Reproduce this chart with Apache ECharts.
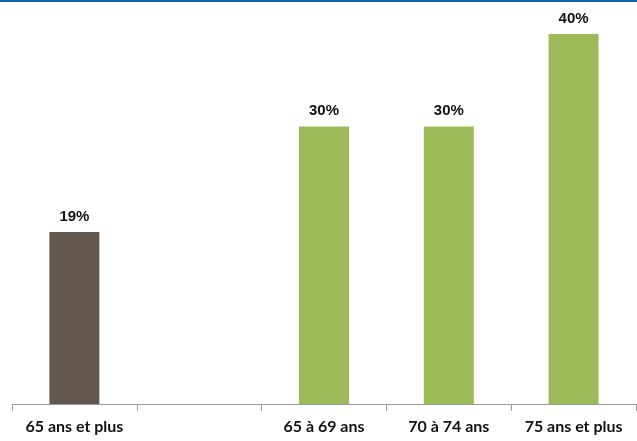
<!DOCTYPE html>
<html><head><meta charset="utf-8">
<script src="https://cdn.jsdelivr.net/npm/echarts@6/dist/echarts.min.js"></script>
<style>html,body{margin:0;padding:0;background:#fff}#c{width:637px;height:441px}</style>
</head><body><div id="c"></div>
<script>
var categories = ['65 ans et plus', '', '65 à 69 ans', '70 à 74 ans', '75 ans et plus'];
var values = [18.6, null, 30, 30, 40];
var valueLabels = ['19%', '', '30%', '30%', '40%'];

var chart = echarts.init(document.getElementById('c'), null, {renderer: 'canvas'});
chart.setOption({
  animation: false,
  backgroundColor: '#fff',
  graphic: [{type: 'rect', left: 0, top: 0, shape: {width: 637, height: 2}, style: {fill: '#1168a6'}}],
  grid: {left: 12, right: 1, top: 34, bottom: 37, containLabel: false},
  xAxis: {
    type: 'category', data: categories,
    axisLine: {lineStyle: {color: '#9a9a9a', width: 1}},
    axisTick: {show: true, interval: 0, length: 7, lineStyle: {color: '#9a9a9a'}},
    axisLabel: {interval: 0, hideOverlap: false, color: '#111', fontFamily: 'Lato', fontWeight: 'bold', fontSize: 16, margin: 15}
  },
  yAxis: {type: 'value', min: 0, max: 40, show: false, splitLine: {show: false}},
  series: [{
    type: 'bar', data: values, barWidth: 50,
    itemStyle: {color: function (p) { return p.dataIndex === 0 ? '#625850' : '#9bbb59'; }},
    label: {show: true, position: 'top', distance: 8, color: '#111', fontFamily: 'Liberation Sans', fontWeight: 'bold', fontSize: 15,
      formatter: function (p) { return valueLabels[p.dataIndex]; }}
  }]
});
</script></body></html>
